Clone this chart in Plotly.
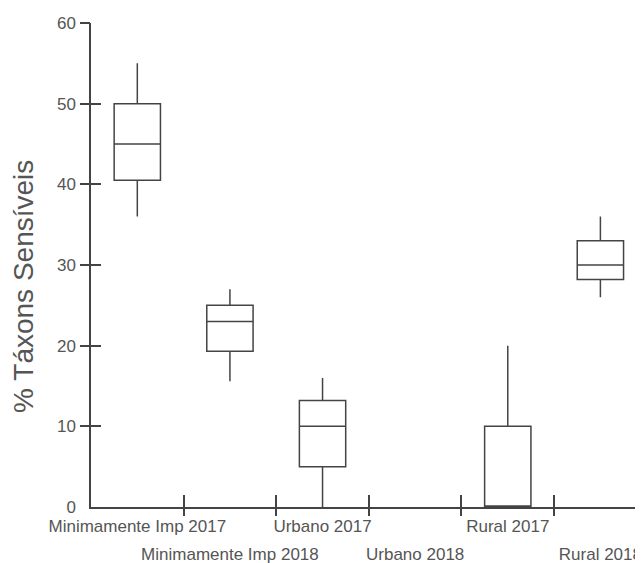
import plotly.graph_objects as go

categories = ["Minimamente Imp 2017", "Minimamente Imp 2018", "Urbano 2017",
              "Urbano 2018", "Rural 2017", "Rural 2018"]
lower = [36, 15.6, 0, None, 0, 26]
q1 = [40.5, 19.3, 5, None, 0, 28.2]
median = [45, 23, 10, None, 0, 30]
q3 = [50, 25, 13.2, None, 10, 33]
upper = [55, 27, 16, None, 20, 36]
y_ticks = [0, 10, 20, 30, 40, 50, 60]

LINE = "#444444"
TXT = "#555555"
FONT = "Liberation Sans, Arial, sans-serif"

fig = go.Figure()
for i, name in enumerate(categories):
    if q1[i] is None:
        continue
    fig.add_trace(go.Box(
        x=[i], q1=[q1[i]], median=[median[i]], q3=[q3[i]],
        lowerfence=[lower[i]], upperfence=[upper[i]],
        name=name, width=0.5, whiskerwidth=0, boxpoints=False,
        line=dict(color=LINE, width=1.5), fillcolor="rgba(255,255,255,0)",
        showlegend=False, hoverinfo="skip",
    ))

idx = list(range(len(categories)))
xr = [-0.5, 5.46]
bounds = [i + 0.5 for i in idx[:-1]]

common = dict(automargin=False, showgrid=False, zeroline=False)

fig.update_layout(
    width=635, height=555,
    margin=dict(l=83, r=0, t=15, b=56),
    plot_bgcolor="white", paper_bgcolor="white",
    font=dict(family=FONT, size=17, color=TXT),
    xaxis=dict(range=xr, tickvals=idx[0::2], ticktext=categories[0::2],
               ticks="", showline=True, linecolor=LINE, linewidth=1.5,
               ticklabelstandoff=3, tickfont=dict(size=17, color=TXT), **common),
    xaxis2=dict(range=xr, overlaying="x", anchor="y", side="bottom",
                tickvals=idx[1::2], ticktext=categories[1::2], ticks="",
                showline=False, ticklabelstandoff=35,
                tickfont=dict(size=17, color=TXT), **common),
    xaxis3=dict(range=xr, overlaying="x", anchor="y", side="bottom",
                tickvals=bounds, ticks="outside", ticklen=8, tickwidth=1.5,
                tickcolor=LINE, showticklabels=False, showline=False, **common),
    xaxis4=dict(range=xr, overlaying="x", anchor="y", side="bottom",
                tickvals=bounds, ticks="inside", ticklen=12, tickwidth=1.5,
                tickcolor=LINE, showticklabels=False, showline=False, **common),
    yaxis=dict(range=[0, 60], tickvals=y_ticks, ticks="", showline=True,
               linecolor=LINE, linewidth=1.5, ticklabelstandoff=10,
               tickfont=dict(size=17, color=TXT), **common),
    yaxis2=dict(range=[0, 60], overlaying="y", anchor="x", side="left",
                tickvals=y_ticks[1:], ticks="outside", ticklen=10, tickwidth=1.5,
                tickcolor=LINE, showticklabels=False, showline=False, **common),
    yaxis3=dict(range=[0, 60], overlaying="y", anchor="x", side="left",
                tickvals=y_ticks[1:], ticks="inside", ticklen=10, tickwidth=1.5,
                tickcolor=LINE, showticklabels=False, showline=False, **common),
)

for xa, ya in [("x2", "y"), ("x3", "y"), ("x4", "y"), ("x", "y2"), ("x", "y3")]:
    fig.add_trace(go.Scatter(x=[None], y=[None], xaxis=xa, yaxis=ya,
                             showlegend=False, hoverinfo="skip"))

fig.add_annotation(text="% Táxons Sensíveis", textangle=-90,
                   xref="paper", yref="paper", x=-0.1234, y=0.4566,
                   xanchor="center", yanchor="middle", showarrow=False,
                   font=dict(family=FONT, size=28, color=TXT))

fig.write_html("out.html")
